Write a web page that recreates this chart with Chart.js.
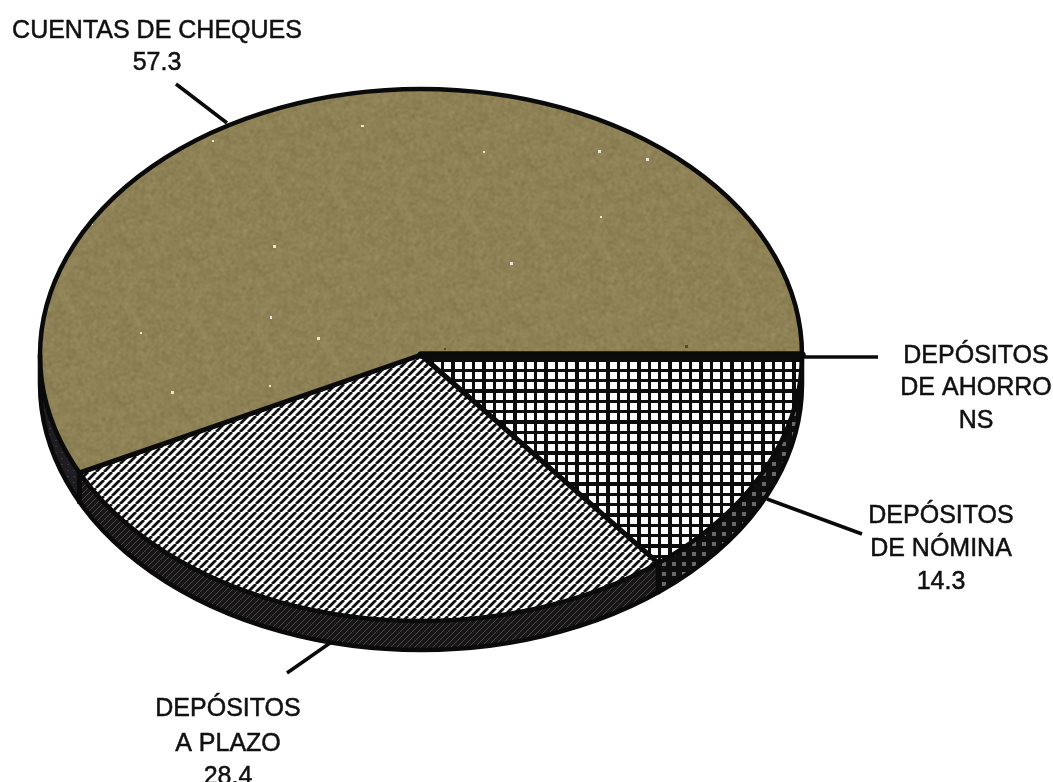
<!DOCTYPE html>
<html>
<head>
<meta charset="utf-8">
<title>Depósitos</title>
<script src="https://cdn.jsdelivr.net/npm/chart.js@4"></script>
<style>
html,body{margin:0;background:#fff}
canvas{display:block;filter:blur(.45px)}
</style>
</head>
<body>
<canvas id="chart" width="1053" height="782"></canvas>
<script>
// clockwise from the east edge of the pie
const categories = ['DEPÓSITOS DE AHORRO', 'DEPÓSITOS DE NÓMINA', 'DEPÓSITOS A PLAZO', 'CUENTAS DE CHEQUES'];
const seriesValues = [0, 14.3, 28.4, 57.3];
const valueLabels = ['NS', '14.3', '28.4', '57.3'];
const labelLines = [['DEPÓSITOS', 'DE AHORRO'], ['DEPÓSITOS', 'DE NÓMINA'], ['DEPÓSITOS', 'A PLAZO'], ['CUENTAS DE CHEQUES']];

// layout of the picture
const CX = 421, CY = 355, RX = 381, RY = 266, DEPTH = 29;
const K = RY / RX;
const labelPos = [
  { x: 976, y: [363, 395, 428] },
  { x: 941, y: [523, 556, 589] },
  { x: 228, y: [716, 751, 784] },
  { x: 157, y: [38, 70] }
];
const leaders = [
  [802, 357, 878, 357],
  [767, 499, 862, 534],
  [330, 643, 287, 673],
  [227, 123, 176, 84]
];

function tile(w, h, paint) {
  const c = document.createElement('canvas');
  c.width = w; c.height = h;
  paint(c.getContext('2d'), w, h);
  return c;
}

const gridTile = tile(31, 31, (c) => {
  c.fillStyle = '#0c0c0c'; c.fillRect(0, 0, 31, 31);
  c.fillStyle = '#fff';
  [0, 10, 21].forEach((x) => [0, 10, 21].forEach((y) => c.fillRect(x, y, 7, 7)));
});
const stripeTile = tile(8, 8, (c) => {
  c.fillStyle = '#fff'; c.fillRect(0, 0, 8, 8);
  c.strokeStyle = '#111'; c.lineWidth = 2.8;
  [-8, 0, 8].forEach((i) => {
    c.beginPath(); c.moveTo(i, 8); c.lineTo(i + 8, 0); c.stroke();
  });
});
const paperTile = tile(800, 600, (c, w, h) => {
  const raw = document.createElement('canvas');
  raw.width = w; raw.height = h;
  const rc = raw.getContext('2d');
  const img = rc.createImageData(w, h);
  let seed = 7;
  const next = () => (seed = (seed * 1103515245 + 12345) & 0x7fffffff) >> 8;
  for (let i = 0; i < img.data.length; i += 4) {
    const n = next() % 45 - 22;
    img.data[i] = 141 + n; img.data[i + 1] = 129 + n; img.data[i + 2] = 85 + n; img.data[i + 3] = 255;
  }
  rc.putImageData(img, 0, 0);
  c.filter = 'blur(0.8px)';
  c.drawImage(raw, 0, 0);
  c.filter = 'blur(0.6px)';
  for (let i = 0; i < 34; i++) {
    c.fillStyle = i % 5 === 0 ? 'rgba(60,50,30,.7)' : 'rgba(255,255,245,.8)';
    c.fillRect(next() % w, next() % h, 2 + next() % 2, 2 + next() % 2);
  }
});
const wallPlazo = tile(6, 6, (c) => {
  c.fillStyle = '#181616'; c.fillRect(0, 0, 6, 6);
  c.strokeStyle = '#4a4546'; c.lineWidth = 1;
  c.beginPath(); c.moveTo(0, 6); c.lineTo(6, 0); c.stroke();
});
const wallNomina = tile(10, 10, (c) => {
  c.fillStyle = '#0e0e0e'; c.fillRect(0, 0, 10, 10);
  c.fillStyle = '#6a6a6a'; c.fillRect(2, 2, 4, 4);
});
const wallCheques = tile(6, 6, (c) => {
  c.fillStyle = '#1f1d22'; c.fillRect(0, 0, 6, 6);
  c.fillStyle = '#3b383e'; c.fillRect(1, 2, 2, 1);
});

const faceColors = ['#fff', '#fff', '#fff', '#8d8155'];
const faceTiles = [null, gridTile, stripeTile, paperTile];
const wallTiles = [wallNomina, wallNomina, wallPlazo, wallCheques];

const piePlugin = {
  id: 'tiltedPie',
  beforeDatasetsDraw(chart) {
    const ctx = chart.ctx;
    const arcs = chart.getDatasetMeta(0).data;
    // side wall, front half only
    arcs.forEach((arc, i) => {
      const p = arc.getProps(['startAngle', 'endAngle', 'outerRadius', 'x', 'y'], true);
      const a = Math.max(p.startAngle, 0), b = Math.min(p.endAngle, Math.PI);
      if (b <= a) return;
      ctx.beginPath();
      ctx.ellipse(p.x, p.y, p.outerRadius, p.outerRadius * K, 0, a, b);
      ctx.ellipse(p.x, p.y + DEPTH, p.outerRadius, p.outerRadius * K, 0, b, a, true);
      ctx.closePath();
      ctx.fillStyle = ctx.createPattern(wallTiles[i], 'repeat');
      ctx.fill();
    });
    // the pie itself is squashed into the tilted ellipse
    ctx.save();
    ctx.translate(CX, CY);
    ctx.scale(1, K);
    ctx.translate(-CX, -CY);
  },
  afterDatasetsDraw(chart) {
    const ctx = chart.ctx;
    ctx.restore();
    const arcs = chart.getDatasetMeta(0).data;
    const first = arcs[0].getProps(['outerRadius', 'x', 'y'], true);
    const x = first.x, y = first.y, rx = first.outerRadius, ry = rx * K;
    // hatching goes on unsquashed, so it stays pixel sharp
    arcs.forEach((arc, i) => {
      if (!faceTiles[i]) return;
      const p = arc.getProps(['startAngle', 'endAngle'], true);
      ctx.beginPath();
      ctx.moveTo(x, y);
      ctx.ellipse(x, y, rx, ry, 0, p.startAngle, p.endAngle);
      ctx.closePath();
      ctx.fillStyle = ctx.createPattern(faceTiles[i], 'repeat');
      ctx.fill();
    });
    ctx.save();
    ctx.strokeStyle = '#0a0a0a';
    ctx.lineCap = 'round';
    // outline
    ctx.lineWidth = 4.5;
    ctx.beginPath();
    ctx.ellipse(x, y, rx, ry, 0, 0, Math.PI * 2);
    ctx.stroke();
    ctx.beginPath();
    ctx.moveTo(x - rx, y);
    ctx.lineTo(x - rx, y + DEPTH);
    ctx.ellipse(x, y + DEPTH, rx, ry, 0, Math.PI, 0, true);
    ctx.lineTo(x + rx, y);
    ctx.stroke();
    // dividers
    arcs.forEach((arc) => {
      const a = arc.getProps(['startAngle'], true).startAngle;
      const ex = x + rx * Math.cos(a), ey = y + ry * Math.sin(a);
      ctx.lineWidth = a === 0 ? 7 : 5;
      ctx.beginPath();
      ctx.moveTo(x, y);
      ctx.lineTo(ex, ey);
      ctx.stroke();
      if (a > 0 && a < Math.PI) {
        ctx.beginPath();
        ctx.moveTo(ex, ey);
        ctx.lineTo(ex, ey + DEPTH);
        ctx.stroke();
      }
    });
    // leader lines and labels
    ctx.lineWidth = 3.5;
    ctx.lineCap = 'butt';
    leaders.forEach((l) => {
      ctx.beginPath();
      ctx.moveTo(l[0], l[1]);
      ctx.lineTo(l[2], l[3]);
      ctx.stroke();
    });
    ctx.fillStyle = '#111';
    ctx.strokeStyle = '#111';
    ctx.lineWidth = 0.5;
    ctx.font = '25px "Liberation Sans", sans-serif';
    ctx.textAlign = 'center';
    ctx.textBaseline = 'alphabetic';
    categories.forEach((name, i) => {
      const lines = labelLines[i].concat(valueLabels[i]);
      lines.forEach((t, j) => {
        ctx.fillText(t, labelPos[i].x, labelPos[i].y[j]);
        ctx.strokeText(t, labelPos[i].x, labelPos[i].y[j]);
      });
    });
    ctx.restore();
  }
};

new Chart(document.getElementById('chart'), {
  type: 'pie',
  data: {
    labels: categories,
    datasets: [{
      data: seriesValues,
      backgroundColor: faceColors,
      borderWidth: 0,
      clip: false
    }]
  },
  options: {
    responsive: false,
    animation: false,
    rotation: 90,
    radius: RX,
    layout: { padding: { left: 0, right: 1053 - 2 * CX, top: 0, bottom: 782 - 2 * CY } },
    plugins: { legend: { display: false }, tooltip: { enabled: false } }
  },
  plugins: [piePlugin]
});
</script>
</body>
</html>
